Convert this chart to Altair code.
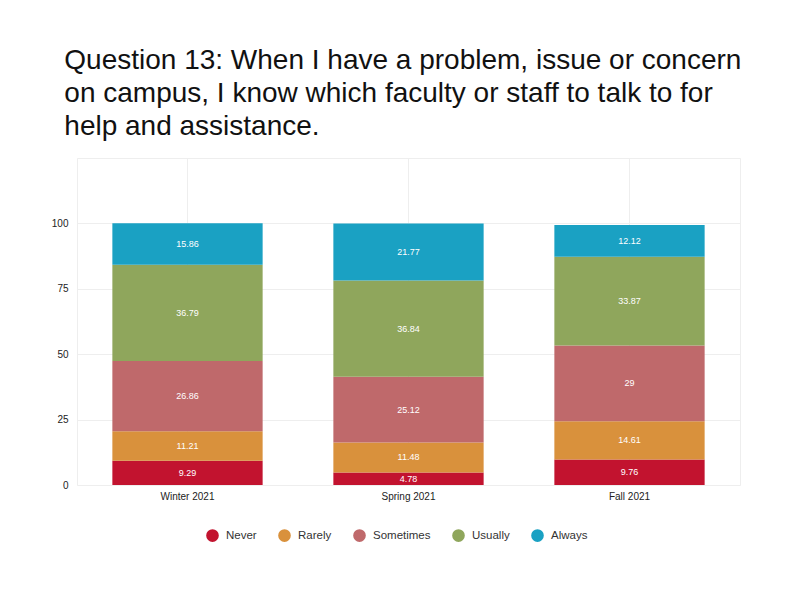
import altair as alt
import pandas as pd

terms = ["Winter 2021", "Spring 2021", "Fall 2021"]
responses = ["Never", "Rarely", "Sometimes", "Usually", "Always"]
colors = ["#c2132f", "#d9913c", "#bf696b", "#8fa65c", "#1aa1c3"]
never = [9.29, 4.78, 9.76]
rarely = [11.21, 11.48, 14.61]
sometimes = [26.86, 25.12, 29]
usually = [36.79, 36.84, 33.87]
always = [15.86, 21.77, 12.12]

series = [never, rarely, sometimes, usually, always]
rows = []
for ri, (resp, vals) in enumerate(zip(responses, series)):
    for t, v in zip(terms, vals):
        rows.append({"term": t, "response": resp, "order": ri, "value": v, "label": f"{v:g}"})
df = pd.DataFrame(rows)

base = alt.Chart(df).transform_stack(
    stack="value", groupby=["term"], sort=[alt.SortField("order", "ascending")],
    as_=["v0", "v1"]
).transform_calculate(mid="(datum.v0 + datum.v1) / 2")

x = alt.X("term:N", sort=terms, title=None,
          scale=alt.Scale(paddingInner=0.32, paddingOuter=0.16),
          axis=alt.Axis(labelAngle=0, labelFontSize=10, labelColor="#222", labelPadding=6,
                        ticks=False, domain=False, grid=True, gridColor="#eeeeee"))

bars = base.mark_bar().encode(
    x=x,
    y=alt.Y("v0:Q", title=None,
            scale=alt.Scale(domain=[0, 125], nice=False),
            axis=alt.Axis(values=[0, 25, 50, 75, 100, 125],
                          labelExpr="datum.value == 125 ? '' : datum.label",
                          labelFontSize=10, labelColor="#222", labelPadding=9,
                          ticks=False, domain=False, gridColor="#eeeeee")),
    y2="v1:Q",
    color=alt.Color("response:N", sort=responses,
                    scale=alt.Scale(domain=responses, range=colors),
                    legend=alt.Legend(title=None, orient="none", direction="horizontal",
                                      legendX=129, legendY=371,
                                      symbolType="circle", symbolSize=160, symbolStrokeWidth=0,
                                      labelFontSize=11.5, labelColor="#333", columnPadding=21,
                                      labelOffset=7)),
)

labels = base.mark_text(color="white", fontSize=9).encode(
    x=alt.X("term:N", sort=terms),
    y=alt.Y("mid:Q"),
    text="label:N",
)

chart = alt.layer(bars, labels).properties(
    width=663, height=327,
    autosize=alt.AutoSizeParams(type="none"),
    padding={"left": 69, "top": 150, "right": 44, "bottom": 110},
    title=alt.TitleParams(
        ["Question 13: When I have a problem, issue or concern",
         "on campus, I know which faculty or staff to talk to for",
         "help and assistance."],
        anchor="start", dx=13, offset=17, fontSize=28, fontWeight="normal",
        font="Liberation Sans", color="#111", lineHeight=33),
).configure(font="Liberation Sans").configure_view(stroke="#eeeeee")

chart.save("out.html", embed_options={"renderer": "svg", "actions": False})
